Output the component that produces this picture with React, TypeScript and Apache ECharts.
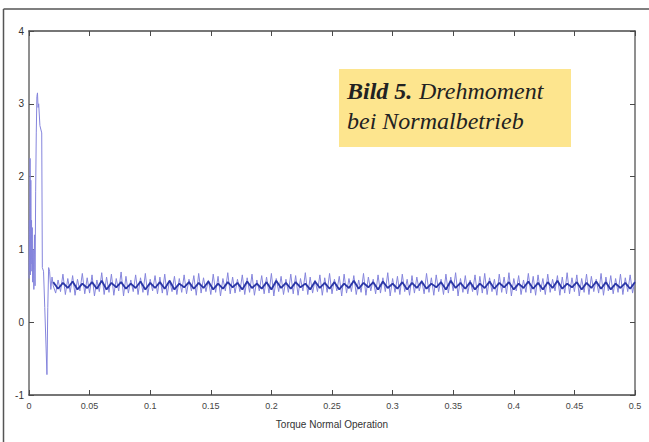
import React, { useEffect, useRef } from "react";
import * as echarts from "echarts";

const xTicks = ["0", "0.05", "0.1", "0.15", "0.2", "0.25", "0.3", "0.35", "0.4", "0.45", "0.5"];
const yTicks = ["-1", "0", "1", "2", "3", "4"];
const xTitle = "Torque Normal Operation";

// start-up transient (time s, torque)
const transientT = [0, 0.0003, 0.0006, 0.0009, 0.0012, 0.0015, 0.0018, 0.0021, 0.0024, 0.0027, 0.003, 0.0035, 0.004, 0.0045, 0.005, 0.0055, 0.006, 0.0065, 0.007, 0.0075, 0.008, 0.009, 0.0105, 0.011, 0.012, 0.013, 0.014, 0.0148, 0.0155, 0.0162, 0.017, 0.018, 0.019, 0.02];
const transientV = [0.6, 1.4, 0.7, 2.25, 0.65, 1.95, 0.8, 1.4, 0.7, 1.3, 0.55, 1.0, 0.45, 1.2, 0.5, 1.8, 2.6, 3.1, 3.15, 2.95, 3.0, 2.7, 2.6, 0.75, 0.7, 0.2, -0.3, -0.72, 0.2, 0.75, 0.7, 0.45, 0.62, 0.5];

// steady state, light trace, sampled every 2 ms from 0.02 s
const steadyStart = 0.02;
const steadyStepLight = 0.002;
const steadyLight = [
  0.63,0.40,0.58,0.42,0.66,0.38,0.60,0.41,0.64,0.37,0.59,0.43,0.67,0.39,0.61,0.40,0.65,0.36,0.58,0.42,
  0.68,0.38,0.62,0.41,0.66,0.37,0.60,0.43,0.69,0.36,0.63,0.40,0.58,0.42,0.65,0.38,0.61,0.41,0.67,0.37,
  0.59,0.43,0.64,0.39,0.62,0.40,0.66,0.37,0.58,0.42,0.63,0.38,0.60,0.41,0.65,0.39,0.59,0.43,0.64,0.37,
  0.67,0.40,0.61,0.42,0.58,0.38,0.66,0.41,0.63,0.36,0.60,0.43,0.68,0.39,0.62,0.40,0.59,0.42,0.65,0.38,
  0.61,0.41,0.66,0.37,0.58,0.43,0.64,0.39,0.62,0.40,0.67,0.36,0.60,0.42,0.63,0.38,0.59,0.41,0.66,0.39,
  0.64,0.37,0.60,0.43,0.68,0.38,0.62,0.40,0.58,0.42,0.65,0.37,0.61,0.41,0.67,0.39,0.59,0.43,0.63,0.36,
  0.66,0.40,0.60,0.42,0.64,0.38,0.58,0.41,0.67,0.37,0.62,0.43,0.59,0.39,0.65,0.40,0.61,0.42,0.68,0.36,
  0.60,0.41,0.63,0.38,0.66,0.42,0.59,0.37,0.64,0.40,0.62,0.43,0.58,0.39,0.67,0.41,0.61,0.37,0.65,0.42,
  0.59,0.38,0.66,0.40,0.62,0.43,0.68,0.36,0.60,0.41,0.64,0.39,0.58,0.42,0.65,0.37,0.63,0.40,0.67,0.38,
  0.61,0.42,0.59,0.37,0.66,0.41,0.62,0.39,0.68,0.36,0.60,0.43,0.64,0.38,0.58,0.41,0.67,0.40,0.63,0.37,
  0.65,0.42,0.60,0.38,0.66,0.41,0.59,0.43,0.64,0.37,0.62,0.40,0.68,0.39,0.61,0.42,0.65,0.36,0.60,0.41,
  0.66,0.38,0.63,0.42,0.59,0.40,0.67,0.37,0.62,0.43,0.64,0.39,0.60,0.41,0.66,0.38,0.61,0.42,0.65,0.40,
  0.58
];

// steady state, dark trace, sampled every 4 ms from 0.02 s
const steadyStepDark = 0.004;
const steadyDark = [
  0.55,0.46,0.54,0.47,0.56,0.45,0.53,0.47,0.55,0.46,
  0.57,0.45,0.54,0.48,0.55,0.46,0.53,0.47,0.56,0.45,
  0.54,0.47,0.55,0.46,0.57,0.45,0.53,0.48,0.55,0.46,
  0.54,0.47,0.56,0.45,0.53,0.46,0.55,0.48,0.54,0.45,
  0.56,0.47,0.53,0.46,0.55,0.45,0.57,0.47,0.54,0.46,
  0.55,0.48,0.53,0.45,0.56,0.47,0.54,0.46,0.55,0.45,
  0.53,0.47,0.57,0.46,0.54,0.48,0.55,0.45,0.56,0.47,
  0.53,0.46,0.55,0.45,0.54,0.47,0.56,0.46,0.53,0.48,
  0.55,0.45,0.57,0.47,0.54,0.46,0.55,0.45,0.53,0.47,
  0.56,0.46,0.54,0.48,0.55,0.45,0.53,0.47,0.56,0.46,
  0.54,0.45,0.55,0.47,0.57,0.46,0.53,0.48,0.55,0.45,
  0.54,0.47,0.56,0.46,0.55,0.45,0.53,0.47,0.54,0.46,
  0.55
];

const captionBold = "Bild 5.";
const captionLine1 = "Drehmoment";
const captionLine2 = "bei Normalbetrieb";

export default function App() {
  const ref = useRef<HTMLDivElement>(null);
  useEffect(() => {
    if (!ref.current) return;
    const chart = echarts.init(ref.current, null, { renderer: "svg" });

    const lightData: number[][] = transientT.map((t, i) => [t, transientV[i]]);
    steadyLight.forEach((v, i) => {
      const t = +(steadyStart + i * steadyStepLight).toFixed(4);
      if (t > 0.02) lightData.push([t, v]);
    });
    const darkData: number[][] = steadyDark.map((v, i) => [+(steadyStart + i * steadyStepDark).toFixed(4), v]);

    const axisColor = "#4a4a4a";
    const labelFmt = (v: number) => {
      const s = String(+v.toFixed(2));
      return xTicks.includes(s) ? s : "";
    };
    const yFmt = (v: number) => {
      const s = String(Math.round(v));
      return yTicks.includes(s) ? s : "";
    };

    chart.setOption({
      animation: false,
      backgroundColor: "#ffffff",
      grid: { left: 29, right: 14, top: 31, bottom: 47, containLabel: false },
      xAxis: [
        {
          type: "value",
          min: 0,
          max: 0.5,
          interval: 0.05,
          position: "bottom",
          name: xTitle,
          nameLocation: "middle",
          nameGap: 24,
          nameTextStyle: { fontFamily: "Liberation Sans", fontSize: 10, color: "#333" },
          axisLine: { show: true, onZero: false, lineStyle: { color: axisColor, width: 1.5 } },
          axisTick: { show: true, inside: true, length: 5, lineStyle: { color: axisColor } },
          axisLabel: { formatter: labelFmt, fontFamily: "Liberation Sans", fontSize: 9, color: "#444", margin: 6 },
          splitLine: { show: false },
        },
        {
          type: "value",
          min: 0,
          max: 0.5,
          interval: 0.05,
          position: "top",
          axisLine: { show: true, onZero: false, lineStyle: { color: axisColor, width: 1.5 } },
          axisTick: { show: true, inside: true, length: 5, lineStyle: { color: axisColor } },
          axisLabel: { show: false },
          splitLine: { show: false },
        },
      ],
      yAxis: [
        {
          type: "value",
          min: -1,
          max: 4,
          interval: 1,
          position: "left",
          axisLine: { show: true, onZero: false, lineStyle: { color: "#6a6a6a", width: 1.5 } },
          axisTick: { show: true, inside: true, length: 5, lineStyle: { color: axisColor } },
          axisLabel: { formatter: yFmt, fontFamily: "Liberation Sans", fontSize: 10, color: "#333", margin: 5 },
          splitLine: { show: false },
        },
        {
          type: "value",
          min: -1,
          max: 4,
          interval: 1,
          position: "right",
          axisLine: { show: true, onZero: false, lineStyle: { color: "#6a6a6a", width: 1.5 } },
          axisTick: { show: true, inside: true, length: 5, lineStyle: { color: axisColor } },
          axisLabel: { show: false },
          splitLine: { show: false },
        },
      ],
      series: [
        {
          type: "line",
          name: "Drehmoment",
          data: lightData,
          xAxisIndex: 0,
          yAxisIndex: 0,
          showSymbol: false,
          symbol: "none",
          lineStyle: { color: "#8585dc", width: 1 },
        },
        {
          type: "line",
          name: "Drehmoment (Mittel)",
          data: darkData,
          xAxisIndex: 0,
          yAxisIndex: 0,
          showSymbol: false,
          symbol: "none",
          lineStyle: { color: "#2a36a6", width: 1.8 },
        },
      ],
      graphic: [
        { type: "line", shape: { x1: 3.5, y1: 9, x2: 649, y2: 9 }, style: { stroke: "#555", lineWidth: 1.5 } },
        { type: "line", shape: { x1: 3.5, y1: 9, x2: 3.5, y2: 442 }, style: { stroke: "#555", lineWidth: 1.5 } },
        {
          type: "rect",
          shape: { x: 339, y: 69, width: 232, height: 78 },
          style: { fill: "#fde58e" },
          z: 10,
        },
        {
          type: "text",
          x: 347,
          y: 76,
          z: 11,
          style: {
            text: `{b|${captionBold}}  {i|${captionLine1}}\n{i|${captionLine2}}`,
            rich: {
              b: { fontFamily: "Liberation Serif", fontSize: 24, fontWeight: "bold", fontStyle: "italic", fill: "#222", lineHeight: 30 },
              i: { fontFamily: "Liberation Serif", fontSize: 24, fontStyle: "italic", fill: "#222", lineHeight: 30 },
            },
          },
        },
      ],
    });
    return () => chart.dispose();
  }, []);
  return <div ref={ref} style={{ position: "fixed", left: 0, top: 0, width: 649, height: 442 }} />;
}
